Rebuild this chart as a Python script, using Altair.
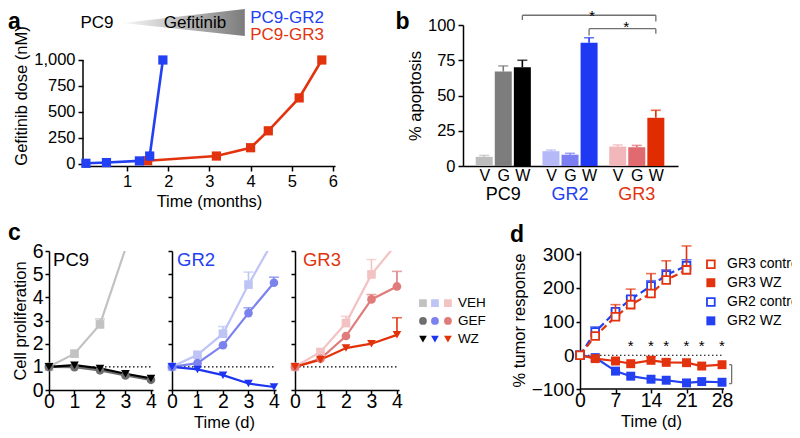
import altair as alt
import pandas as pd

FONT = "Liberation Sans"
BLUE = "#2340f2"
RED = "#e2330e"

# ---------------- panel a ----------------
a_gr2_t = [0, 0.5, 1.3, 1.55, 1.87]
a_gr2_dose = [5, 12, 28, 75, 1000]
a_gr3_t = [1.5, 3.17, 4.0, 4.43, 5.18, 5.73]
a_gr3_dose = [30, 75, 155, 318, 635, 1000]
a_xticks = [1, 2, 3, 4, 5, 6]
a_yticks = [0, 250, 500, 750, 1000]
a_tri_x = [0.90, 3.86]
a_tri_top = [1356, 1491]
a_tri_bot = [1356, 1231]
a_hdr_text = ["PC9", "Gefitinib"]
a_hdr_x = [0.27, 2.65]
a_hdr_y = [1356, 1356]
a_res_text = ["PC9-GR2", "PC9-GR3"]
a_res_x = [3.99, 3.99]
a_res_y = [1409, 1238]
a_res_col = [BLUE, RED]

# ---------------- panel b ----------------
b_pos = [1, 2, 3, 4.5, 5.5, 6.5, 8, 9, 10]
b_val = [6.5, 67, 70, 10.5, 8, 87.5, 13.8, 13.3, 34.2]
b_err = [7.5, 71, 75, 11.3, 9.0, 91, 15, 14.6, 39.5]
b_col = ["#bdbdbd", "#7d7d7d", "#000000", "#b6b9f7", "#7b7ff1", "#1f38f3",
         "#f1b7ba", "#e06a70", "#e02c00"]
b_yticks = [0, 25, 50, 75, 100]
b_groups = ["PC9", "GR2", "GR3"]
b_group_x = [2, 5.5, 9]
b_group_col = ["#000000", BLUE, RED]
b_br_x = [3, 3, 10, 6.5, 6.5, 10]
b_br_x2 = [10, 3, 10, 10, 6.5, 10]
b_br_y = [106.9, 103.5, 102.5, 97.4, 92.5, 93.8]
b_br_y2 = [106.9, 106.9, 106.9, 97.4, 97.4, 97.4]
b_star_x = [6.65, 8.45]
b_star_y = [111.2, 103.3]

# ---------------- panel c ----------------
c_t = [0, 1, 2, 3, 4]
pc9_veh = [1, 1.57, 2.83, 6.1, 12]
pc9_gef = [1, 0.99, 0.85, 0.63, 0.44]
pc9_wz = [1, 1.07, 0.93, 0.70, 0.50]
gr2_veh = [1, 1.52, 2.43, 4.55, 6.5]
gr2_gef = [1, 1.16, 1.93, 3.32, 4.63]
gr2_wz = [1, 0.89, 0.64, 0.28, 0.13]
gr3_veh = [1, 1.64, 2.89, 4.99, 6.33]
gr3_gef = [1, 1.35, 2.33, 3.91, 4.47]
gr3_wz = [1, 1.31, 1.81, 2.00, 2.38]
N = None
pc9_veh_e = [N, N, 3.07, N, N]
gr2_veh_e = [N, N, 2.74, 5.09, N]
gr2_gef_e = [N, N, N, 3.55, 4.87]
gr3_veh_e = [N, N, 3.18, 5.63, N]
gr3_gef_e = [N, N, N, 4.12, 5.12]
gr3_wz_e = [N, N, N, N, 3.12]
c_colors = {
    "PC9": ["#c2c2c2", "#6e6e6e", "#000000"],
    "GR2": ["#bfc4f7", "#7b82ee", "#1d35f0"],
    "GR3": ["#f3c2c2", "#e07b7b", "#e3320a"],
}
c_title_col = {"PC9": "#000000", "GR2": BLUE, "GR3": RED}
c_title_x = {"PC9": 0.16, "GR2": 0.2, "GR3": 0.31}
c_treat = ["VEH", "GEF", "WZ"]
c_shapes = ["square", "circle", "triangle-down"]
c_leg_x = [5.02, 5.49, 6.0]
c_leg_y = [3.75, 2.98, 2.2]
c_leg_tx = 6.39

# ---------------- panel d ----------------
d_t_ctrl = [0, 3, 7, 10, 14, 17, 21]
gr3_ctrl = [0, 57, 114, 150, 183, 223, 253]
gr3_ctrl_e = [N, N, 150, 196, 242, 280, 324]
gr2_ctrl = [0, 69, 129, 166, 205, 238, 265]
gr2_ctrl_e = [N, 84, 135, 173, 221, 253, 283]
d_t_wz = [0, 3, 7, 10, 14, 17, 21, 24, 28]
gr3_wzd = [0, -10, -17, -25, -15, -21, -22, -32, -28]
gr3_wzd_e = [N, N, N, N, -4, -12, N, N, N]
gr2_wzd = [0, -7, -47, -62, -71, -74, -82, -78, -80]
d_star_x = [10, 14, 17, 21, 24, 28]
d_star_y = 27
d_leg_text = ["GR3 control", "GR3 WZ", "GR2 control", "GR2 WZ"]
d_leg_y = [270, 215, 158, 102]
d_leg_col = [RED, RED, BLUE, BLUE]
d_leg_open = [True, False, True, False]
d_leg_mx = 25.8
d_leg_tx = 29.0


def T(**kw):
    base = dict(font=FONT, color="black")
    base.update(kw)
    return base


def idc(field="col"):
    return alt.Color(f"{field}:N", scale=None, legend=None)


# ================= panel a =================
def enc_a(xf, yf):
    return dict(
        x=alt.X(f"{xf}:Q", scale=alt.Scale(domain=[-0.07, 6.05], nice=False, zero=False),
                axis=alt.Axis(values=a_xticks, title="Time (months)")),
        y=alt.Y(f"{yf}:Q", scale=alt.Scale(domain=[-21, 1337], nice=False, zero=False),
                axis=alt.Axis(values=a_yticks, format=",.0f", title="Gefitinib dose (nM)",
                              domain=False, labelPadding=3)),
    )


a_df = pd.DataFrame({
    "t": a_gr3_t + a_gr2_t,
    "dose": a_gr3_dose + a_gr2_dose,
    "col": [RED] * len(a_gr3_t) + [BLUE] * len(a_gr2_t),
})
tri_df = pd.DataFrame({"x": a_tri_x, "top": a_tri_top, "bot": a_tri_bot})
grad = alt.LinearGradient(gradient="linear",
                          stops=[alt.GradientStop(color="#f7f7f7", offset=0),
                                 alt.GradientStop(color="#7c7c7c", offset=1)],
                          x1=0, x2=1, y1=0, y2=0)
a_yline = alt.Chart(pd.DataFrame({"x": [-0.07], "y": [-21], "y2": [1000]})).mark_rule(
    color="black", strokeWidth=1.5).encode(**enc_a("x", "y"), y2="y2:Q")
a_tri = alt.Chart(tri_df).mark_area(color=grad).encode(**enc_a("x", "top"), y2="bot:Q")
a_hdr = alt.Chart(pd.DataFrame({"x": a_hdr_x, "y": a_hdr_y, "s": a_hdr_text})).mark_text(
    **T(fontSize=17, baseline="middle")).encode(**enc_a("x", "y"), text="s:N")
a_res = alt.Chart(pd.DataFrame({"x": a_res_x, "y": a_res_y, "s": a_res_text, "col": a_res_col})).mark_text(
    font=FONT, fontSize=17, baseline="middle", align="left").encode(
    **enc_a("x", "y"), text="s:N", color=idc())
a_line = alt.Chart(a_df).mark_line(strokeWidth=2.6).encode(**enc_a("t", "dose"), color=idc())
a_pts = alt.Chart(a_df).mark_point(shape="square", filled=True, size=85, opacity=1).encode(
    **enc_a("t", "dose"), color=idc())
a_lab = alt.Chart(pd.DataFrame({"x": [-1.89], "y": [1472], "s": ["a"]})).mark_text(
    **T(fontSize=23, fontWeight="bold", align="left", baseline="top")).encode(**enc_a("x", "y"), text="s:N")
panel_a = alt.layer(a_yline, a_tri, a_hdr, a_res, a_line, a_pts, a_lab).properties(width=252, height=141)


# ================= panel b =================
def enc_b(xf, yf):
    return dict(
        x=alt.X(f"{xf}:Q", scale=alt.Scale(domain=[0.15, 10.9], nice=False, zero=False),
                axis=alt.Axis(values=b_pos, ticks=False, tickSize=0, title=None, labelFontSize=16,
                              labelPadding=1,
                              labelExpr="indexof([1,4.5,8], datum.value) >= 0 ? 'V' : (indexof([2,5.5,9], datum.value) >= 0 ? 'G' : 'W')")),
        y=alt.Y(f"{yf}:Q", scale=alt.Scale(domain=[0, 100], nice=False),
                axis=alt.Axis(values=b_yticks, title="% apoptosis", labelPadding=3)),
    )


b_df = pd.DataFrame({"pos": b_pos, "val": b_val, "err": b_err, "col": b_col})
b_bars = alt.Chart(b_df).mark_bar(size=17).encode(**enc_b("pos", "val"), color=idc())
b_erule = alt.Chart(b_df).mark_rule(strokeWidth=1.6).encode(**enc_b("pos", "val"), y2="err:Q", color=idc())
b_ecap = alt.Chart(b_df).mark_tick(orient="horizontal", size=10, thickness=1.6).encode(
    **enc_b("pos", "err"), color=idc())
b_glab = alt.Chart(pd.DataFrame({"x": b_group_x, "y": [-20.8] * 3, "s": b_groups, "col": b_group_col})).mark_text(
    font=FONT, fontSize=18, baseline="middle").encode(**enc_b("x", "y"), text="s:N", color=idc())
b_br = alt.Chart(pd.DataFrame({"x": b_br_x, "x2": b_br_x2, "y": b_br_y, "y2": b_br_y2})).mark_rule(
    color="#707070", strokeWidth=1.3).encode(**enc_b("x", "y"), x2="x2:Q", y2="y2:Q")
b_star = alt.Chart(pd.DataFrame({"x": b_star_x, "y": b_star_y, "s": ["*", "*"]})).mark_text(
    **T(fontSize=15.5, baseline="top")).encode(**enc_b("x", "y"), text="s:N")
b_lab = alt.Chart(pd.DataFrame({"x": [-3.65], "y": [109.9], "s": ["b"]})).mark_text(
    **T(fontSize=23, fontWeight="bold", align="left", baseline="top")).encode(**enc_b("x", "y"), text="s:N")
panel_b = alt.layer(b_br, b_star, b_bars, b_erule, b_ecap, b_glab, b_lab).properties(width=215, height=141)

# ================= panel c =================
c_series = {
    "PC9": [pc9_veh, pc9_gef, pc9_wz],
    "GR2": [gr2_veh, gr2_gef, gr2_wz],
    "GR3": [gr3_veh, gr3_gef, gr3_wz],
}
c_errs = {
    "PC9": [pc9_veh_e, [N] * 5, [N] * 5],
    "GR2": [gr2_veh_e, gr2_gef_e, [N] * 5],
    "GR3": [gr3_veh_e, gr3_gef_e, gr3_wz_e],
}


def c_panel(name):
    first = name == "PC9"

    def enc(xf, yf):
        xa = dict(values=c_t, labelFontSize=19.5, tickSize=4, labelPadding=-2)
        if name == "GR2":
            xa["title"] = "Time (d)"
        else:
            xa["title"] = None
        ya = dict(values=[0, 1, 2, 3, 4, 5, 6], labels=first, tickSize=4, labelFontSize=19.5, labelPadding=2)
        ya["title"] = "Cell proliferation" if first else None
        return dict(
            x=alt.X(f"{xf}:Q", scale=alt.Scale(domain=[0, 4.08], nice=False, zero=False), axis=alt.Axis(**xa)),
            y=alt.Y(f"{yf}:Q", scale=alt.Scale(domain=[0, 6], nice=False), axis=alt.Axis(**ya)),
        )

    rows = []
    for i, tr in enumerate(c_treat):
        for j, t in enumerate(c_t):
            rows.append({"t": t, "v": c_series[name][i][j], "e": c_errs[name][i][j],
                         "col": c_colors[name][i], "shp": c_shapes[i]})
    df = pd.DataFrame(rows)
    dot = alt.Chart(pd.DataFrame({"x": [0], "x2": [4], "y": [1]})).mark_rule(
        color="black", strokeDash=[1.5, 2.5], strokeWidth=1.2).encode(**enc("x", "y"), x2="x2:Q")
    line = alt.Chart(df).mark_line(strokeWidth=2.2, clip=True).encode(**enc("t", "v"), color=idc())
    edf = df.dropna(subset=["e"])
    erule = alt.Chart(edf).mark_rule(strokeWidth=1.6).encode(**enc("t", "v"), y2="e:Q", color=idc())
    ecap = alt.Chart(edf).mark_tick(orient="horizontal", size=10, thickness=1.6).encode(**enc("t", "e"), color=idc())
    pts = alt.Chart(df[df.v <= 6]).mark_point(filled=True, size=75, opacity=1).encode(
        **enc("t", "v"), color=idc(), shape=alt.Shape("shp:N", scale=None, legend=None))
    ttl = alt.Chart(pd.DataFrame({"x": [c_title_x[name]], "y": [5.61], "s": [name],
                                  "col": [c_title_col[name]]})).mark_text(
        font=FONT, fontSize=18.5, align="left", baseline="middle").encode(
        **enc("x", "y"), text="s:N", color=idc())
    layers = [dot, line, erule, ecap, pts, ttl]
    if first:
        layers.append(alt.Chart(pd.DataFrame({"x": [-1.608], "y": [6.47], "s": ["c"]})).mark_text(
            **T(fontSize=23, fontWeight="bold", align="left", baseline="alphabetic")).encode(
            **enc("x", "y"), text="s:N"))
    if name == "GR3":
        lrows = []
        for i, tr in enumerate(c_treat):
            for k, p in enumerate(["PC9", "GR2", "GR3"]):
                lrows.append({"x": c_leg_x[k], "y": c_leg_y[i], "col": c_colors[p][i], "shp": c_shapes[i]})
        ldf = pd.DataFrame(lrows)
        layers.append(alt.Chart(ldf).mark_point(filled=True, size=60, opacity=1).encode(
            **enc("x", "y"), color=idc(), shape=alt.Shape("shp:N", scale=None, legend=None)))
        layers.append(alt.Chart(pd.DataFrame({"x": [c_leg_tx] * 3, "y": c_leg_y, "s": c_treat})).mark_text(
            **T(fontSize=13.5, align="left", baseline="middle")).encode(**enc("x", "y"), text="s:N"))
    return alt.layer(*layers).properties(width=104, height=139)


# ================= panel d =================
def enc_d(xf, yf):
    return dict(
        x=alt.X(f"{xf}:Q", scale=alt.Scale(domain=[0, 41.8], nice=False, zero=False),
                axis=alt.Axis(values=[0, 7, 14, 21, 28], title="Time (d)", domain=False,
                              labelFontSize=19.5, tickSize=4, labelPadding=-2, titleX=71)),
        y=alt.Y(f"{yf}:Q", scale=alt.Scale(domain=[-100, 309], nice=False, zero=False),
                axis=alt.Axis(values=[-100, 0, 100, 200, 300], title="% tumor response",
                              labelFontSize=19, tickSize=4, labelPadding=2)),
    )


def d_series(t, v, e, color, dashed, open_):
    df = pd.DataFrame({"t": t, "v": v, "e": e})
    lk = dict(strokeWidth=2.2, color=color)
    if dashed:
        lk["strokeDash"] = [7, 4]
    out = [alt.Chart(df).mark_line(**lk).encode(**enc_d("t", "v"))]
    edf = df.dropna(subset=["e"])
    out.append(alt.Chart(edf).mark_rule(color=color, strokeWidth=1.6).encode(**enc_d("t", "v"), y2="e:Q"))
    out.append(alt.Chart(edf).mark_tick(color=color, orient="horizontal", size=10, thickness=1.6).encode(
        **enc_d("t", "e")))
    if open_:
        out.append(alt.Chart(df).mark_point(shape="square", filled=True, fill="white", stroke=color,
                                            strokeWidth=1.8, size=60, opacity=1).encode(**enc_d("t", "v")))
    else:
        out.append(alt.Chart(df).mark_point(shape="square", filled=True, color=color, size=80,
                                            opacity=1).encode(**enc_d("t", "v")))
    return out


d_layers = [
    alt.Chart(pd.DataFrame({"x": [0], "x2": [28.4], "y": [-100]})).mark_rule(
        color="black", strokeWidth=1.5).encode(**enc_d("x", "y"), x2="x2:Q"),
    alt.Chart(pd.DataFrame({"x": [0], "x2": [28], "y": [0]})).mark_rule(
        color="black", strokeDash=[1.5, 2.5], strokeWidth=1.2).encode(**enc_d("x", "y"), x2="x2:Q"),
]
d_layers += d_series(d_t_wz, gr2_wzd, [N] * 9, BLUE, False, False)
d_layers += d_series(d_t_wz, gr3_wzd, gr3_wzd_e, RED, False, False)
d_layers += d_series(d_t_ctrl, gr2_ctrl, gr2_ctrl_e, BLUE, True, True)
d_layers += d_series(d_t_ctrl, gr3_ctrl, gr3_ctrl_e, RED, True, True)
d_layers.append(alt.Chart(pd.DataFrame({"x": d_star_x, "y": [d_star_y] * 6, "s": ["*"] * 6})).mark_text(
    **T(fontSize=15, baseline="middle")).encode(**enc_d("x", "y"), text="s:N"))
d_layers.append(alt.Chart(pd.DataFrame({"x": [29.4, 29.9, 29.4], "x2": [29.9, 29.9, 29.9],
                                        "y": [-28, -84, -84], "y2": [-28, -28, -84]})).mark_rule(
    color="#707070", strokeWidth=1.3).encode(**enc_d("x", "y"), x2="x2:Q", y2="y2:Q"))
for txt, yv, colr, op in zip(d_leg_text, d_leg_y, d_leg_col, d_leg_open):
    ldf = pd.DataFrame({"x": [d_leg_mx], "y": [yv]})
    if op:
        d_layers.append(alt.Chart(ldf).mark_point(shape="square", filled=True, fill="white", stroke=colr,
                                                  strokeWidth=1.8, size=60, opacity=1).encode(**enc_d("x", "y")))
    else:
        d_layers.append(alt.Chart(ldf).mark_point(shape="square", filled=True, color=colr, size=80,
                                                  opacity=1).encode(**enc_d("x", "y")))
d_layers.append(alt.Chart(pd.DataFrame({"x": [d_leg_tx] * 4, "y": d_leg_y, "s": d_leg_text})).mark_text(
    **T(fontSize=14, align="left", baseline="middle", clip=True)).encode(**enc_d("x", "y"), text="s:N"))
d_layers.append(alt.Chart(pd.DataFrame({"x": [-13.8], "y": [335.6], "s": ["d"]})).mark_text(
    **T(fontSize=23, fontWeight="bold", align="left", baseline="alphabetic")).encode(**enc_d("x", "y"), text="s:N"))
panel_d = alt.layer(*d_layers).properties(width=212, height=138)


def spacer(w, h):
    return alt.Chart(pd.DataFrame({"z": [0]})).mark_point(opacity=0, size=1).encode(
        x=alt.X("z:Q", axis=None), y=alt.Y("z:Q", axis=None)).properties(width=w, height=h)


top = alt.hconcat(spacer(15, 141), panel_a, spacer(90, 141), panel_b, spacing=19, bounds="flush")
bottom = alt.hconcat(c_panel("PC9"), c_panel("GR2"), c_panel("GR3"), spacer(143, 139), panel_d,
                     spacing=19, bounds="flush")
chart = alt.vconcat(top, bottom, spacing=12).properties(padding=0).configure_view(stroke=None).configure_axis(
    labelFont=FONT, titleFont=FONT, labelFontSize=16.5, titleFontSize=16.5, titleFontWeight="normal",
    labelColor="black", titleColor="black", domainColor="black", tickColor="black",
    domainWidth=1.5, tickWidth=1.5, tickSize=5, grid=False, labelPadding=2, titlePadding=4,
    labelFlush=False)

chart.save("out.html", embed_options={"renderer": "svg", "actions": False})
